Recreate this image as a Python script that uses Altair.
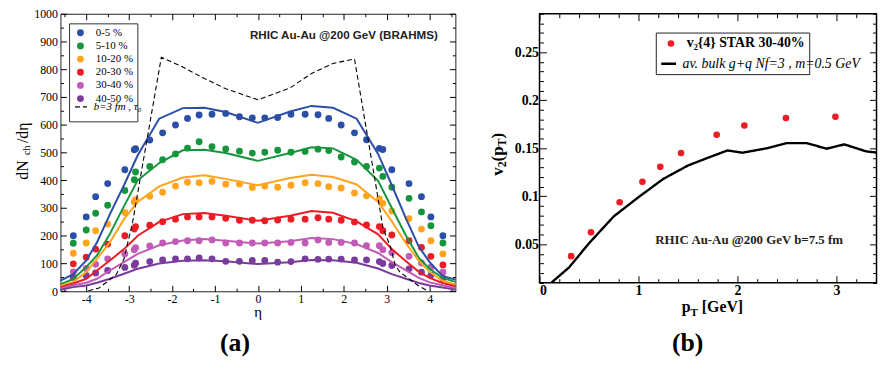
import altair as alt
import pandas as pd

SERIF = "Liberation Serif, Times New Roman, serif"
SANS = "Liberation Sans, Arial, sans-serif"

# ---------------- panel (a) data ----------------
CENT = ["0-5 %", "5-10 %", "10-20 %", "20-30 %", "30-40 %", "40-50 %"]
DASH_NAME = "b=3 fm , τ₀"
COLORS = ["#2b4ea6", "#16963c", "#ffa41c", "#ec1c24", "#c15bb6", "#7a3c9c"]

ETA_DOTS = [-4.30, -4.00, -3.78, -3.50, -3.10, -2.88, -2.85, -2.52, -2.22, -1.92, -1.64,
            -1.37, -1.07, -0.75, -0.43, -0.13, 0.16, 0.46, 0.77, 1.10, 1.40, 1.65,
            1.94, 2.25, 2.53, 2.83, 2.91, 3.12, 3.52, 3.81, 4.03, 4.31]
DOTS_0_5 = [200, 268, 341, 388, 438, 510, 514, 545, 571, 599, 623, 635, 638, 641, 629, 625,
            625, 626, 638, 638, 636, 623, 599, 571, 546, 515, 511, 438, 388, 341, 268, 200]
DOTS_5_10 = [173, 221, 281, 310, 363, 402, 430, 450, 474, 495, 516, 539, 521, 513, 505, 498,
             501, 508, 501, 504, 512, 507, 484, 466, 450, 444, 414, 375, 335, 286, 236, 174]
DOTS_10_20 = [137, 174, 218, 242, 284, 322, 330, 342, 357, 379, 393, 391, 396, 386, 387, 374,
              379, 375, 382, 391, 388, 377, 372, 354, 344, 333, 317, 289, 262, 224, 182, 135]
DOTS_20_30 = [99, 123, 152, 170, 200, 224, 233, 238, 251, 260, 268, 268, 268, 263, 256, 256,
              254, 257, 260, 260, 265, 260, 256, 250, 239, 233, 218, 203, 182, 158, 126, 95]
DOTS_30_40 = [70, 82, 97, 117, 135, 150, 157, 163, 174, 179, 182, 182, 185, 174, 174, 174,
              174, 174, 176, 174, 185, 176, 176, 174, 164, 164, 150, 139, 126, 102, 87, 69]
DOTS_40_50 = [50, 57, 66, 75, 86, 94, 101, 107, 113, 117, 117, 120, 117, 108, 108, 111,
              111, 105, 107, 117, 115, 116, 116, 113, 113, 107, 100, 93, 81, 69, 58, 46]

ETA_MODEL = [-4.6, -4.3, -4.0, -3.75, -3.45, -3.12, -2.8, -2.3, -1.75, -1.25, -0.75, 0.0,
             0.75, 1.25, 1.75, 2.3, 2.8, 3.12, 3.45, 3.75, 4.0, 4.3, 4.6]
MODEL_0_5 = [38, 62, 111, 176, 277, 382, 490, 622, 660, 661, 646, 607, 648, 668, 661, 622,
             495, 382, 262, 160, 105, 55, 42]
MODEL_5_10 = [25, 45, 87, 129, 206, 307, 400, 462, 508, 510, 498, 470, 498, 519, 515, 474,
              398, 300, 200, 120, 81, 48, 34]
MODEL_10_20 = [20, 34, 69, 117, 176, 260, 322, 378, 410, 418, 405, 382, 408, 420, 412, 385,
               322, 252, 172, 110, 70, 38, 25]
MODEL_20_30 = [15, 28, 45, 75, 111, 152, 200, 250, 278, 282, 272, 254, 272, 289, 283, 252,
               205, 152, 108, 70, 48, 30, 18]
MODEL_30_40 = [10, 22, 31, 45, 75, 105, 135, 166, 183, 188, 182, 172, 180, 192, 188, 170,
               138, 105, 75, 48, 32, 22, 12]
MODEL_40_50 = [5, 15, 21, 31, 45, 63, 81, 100, 110, 112, 108, 98, 105, 113, 112, 103,
               82, 62, 45, 30, 21, 14, 6]

ETA_DASH = [-3.95, -3.7, -3.3, -3.12, -2.92, -2.25, -1.75, -1.25, -0.75, 0.0, 0.75, 1.25,
            1.75, 2.25, 2.92, 3.08, 3.2, 3.31, 3.73, 3.95]
DASH_B3 = [2, 12, 60, 117, 248, 843, 808, 767, 730, 690, 733, 785, 821, 837, 224, 164,
           93, 69, 21, 2]

X_MAJOR_A = [-4, -3, -2, -1, 0, 1, 2, 3, 4]
X_MINOR_A = [-4.5, -3.5, -2.5, -1.5, -0.5, 0.5, 1.5, 2.5, 3.5, 4.5]
Y_MAJOR_A = [0, 100, 200, 300, 400, 500, 600, 700, 800, 900, 1000]
Y_MINOR_A = [50, 150, 250, 350, 450, 550, 650, 750, 850, 950]

# ---------------- panel (b) data ----------------
R_STAR = "v₂{4} STAR 30-40%"
R_MODEL = "av. bulk g+q Nf=3 , m=0.5 GeV"
PT_STAR = [0.32, 0.52, 0.81, 1.04, 1.22, 1.43, 1.79, 2.07, 2.49, 2.99]
V2_STAR = [0.0376, 0.0624, 0.0937, 0.115, 0.1306, 0.145, 0.164, 0.1736, 0.1815, 0.1828]
PT_MODEL = [0.12, 0.3, 0.5, 0.75, 1.0, 1.25, 1.5, 1.7, 1.9, 2.05, 2.3, 2.5, 2.7, 2.9,
            3.08, 3.3, 3.45]
V2_MODEL = [0.010, 0.026, 0.051, 0.079, 0.099, 0.118, 0.132, 0.140, 0.1477, 0.1453, 0.150,
            0.1553, 0.1553, 0.1495, 0.154, 0.1467, 0.145]

X_MAJOR_B = [0, 1, 2, 3]
X_MINOR_B = [0.2, 0.4, 0.6, 0.8, 1.2, 1.4, 1.6, 1.8, 2.2, 2.4, 2.6, 2.8, 3.2, 3.4]
Y_MAJOR_B = [0.05, 0.1, 0.15, 0.2, 0.25]
Y_MINOR_B = [0.01, 0.02, 0.03, 0.04, 0.06, 0.07, 0.08, 0.09, 0.11, 0.12, 0.13, 0.14,
             0.16, 0.17, 0.18, 0.19, 0.21, 0.22, 0.23, 0.24, 0.26, 0.27, 0.28, 0.29]

# ---------------- frames ----------------
dots_rows = []
for name, vals in zip(CENT, [DOTS_0_5, DOTS_5_10, DOTS_10_20, DOTS_20_30, DOTS_30_40, DOTS_40_50]):
    for e, v in zip(ETA_DOTS, vals):
        dots_rows.append({"eta": e, "val": v, "series": name})
df_dots = pd.DataFrame(dots_rows)

model_rows = []
for name, vals in zip(CENT, [MODEL_0_5, MODEL_5_10, MODEL_10_20, MODEL_20_30, MODEL_30_40, MODEL_40_50]):
    for e, v in zip(ETA_MODEL, vals):
        model_rows.append({"eta": e, "val": v, "series": name})
df_model = pd.DataFrame(model_rows)

df_dash = pd.DataFrame({"eta": ETA_DASH, "val": DASH_B3, "curve": DASH_NAME})
df_star = pd.DataFrame({"pt": PT_STAR, "v2": V2_STAR, "series": R_STAR})
df_rmodel = pd.DataFrame({"pt": PT_MODEL, "v2": V2_MODEL, "curve": R_MODEL})
one = pd.DataFrame({"t": [""]})


def ax(orient, values, size, labels=False, **kw):
    return alt.Axis(orient=orient, values=values, tickSize=size, offset=-size, labels=labels,
                    domain=False, grid=False, title=None, ticks=True, tickColor="black",
                    tickWidth=1, **kw)


def txt(s, x, y, size, angle=0, align="left", baseline="alphabetic", weight="normal", style="normal"):
    kw = dict(font=SERIF, fontSize=size, align=align, baseline=baseline,
              fontWeight=weight, fontStyle=style, color="black", text=s)
    if angle:
        kw["angle"] = angle
    return alt.Chart(one).mark_text(**kw).encode(x=alt.value(x), y=alt.value(y))


# ================= panel (a) =================
xs_a = alt.Scale(domain=[-4.6, 4.6], nice=False, zero=False)
ys_a = alt.Scale(domain=[0, 1000], nice=False, zero=False)
cs_dots = alt.Scale(domain=CENT + [DASH_NAME], range=COLORS + ["transparent"])
cs_lines = alt.Scale(domain=CENT, range=COLORS)

SPACES_A = "\u2003\u2003\u2003\u2003\u2003"
leg_a = alt.Legend(
    orient="none", legendX=8.7, legendY=9.7, title=None, zindex=1,
    strokeColor="#333333", padding=4, rowPadding=1.3,
    symbolSize=48, symbolType="circle", symbolOffset=2, labelOffset=10,
    symbolStrokeWidth=0, symbolOpacity=1,
    labelFont=SERIF, labelFontSize=11, labelColor="black",
    labelExpr=f"datum.label === '{DASH_NAME}' ? '{SPACES_A}' : datum.label",
)
leg_dash = alt.Legend(
    orient="none", legendX=13.7, legendY=87.0, title=None, padding=0, zindex=3,
    symbolType="stroke", symbolSize=144, symbolStrokeColor="black", symbolStrokeWidth=1.2,
    labelOffset=6, labelFont=SERIF, labelFontSize=11, labelFontStyle="italic",
    labelColor="black",
)

lab_a = dict(labelFont=SERIF, labelFontSize=12, labelColor="black",
             labelExpr="'' + datum.value")

dots_a = alt.Chart(df_dots).mark_circle(size=48, opacity=1).encode(
    x=alt.X("eta:Q", scale=xs_a, axis=ax("bottom", X_MAJOR_A, 6, True, labelPadding=2, **lab_a)),
    y=alt.Y("val:Q", scale=ys_a, axis=ax("left", Y_MAJOR_A, 6, True, labelPadding=3, **lab_a)),
    color=alt.Color("series:N", scale=cs_dots, legend=leg_a),
)
model_a = alt.Chart(df_model).mark_line(strokeWidth=2).encode(
    x=alt.X("eta:Q", scale=xs_a, axis=ax("top", X_MAJOR_A, 6)),
    y=alt.Y("val:Q", scale=ys_a, axis=ax("right", Y_MAJOR_A, 6)),
    color=alt.Color("series:N", scale=cs_lines, legend=None),
)
dash_a = alt.Chart(df_dash).mark_line(strokeWidth=1.1, color="black").encode(
    x=alt.X("eta:Q", scale=xs_a, axis=ax("bottom", X_MINOR_A, 3)),
    y=alt.Y("val:Q", scale=ys_a, axis=ax("left", Y_MINOR_A, 3)),
    strokeDash=alt.StrokeDash("curve:N", scale=alt.Scale(domain=[DASH_NAME], range=[[5, 3]]),
                              legend=leg_dash),
)
note_a = alt.Chart(pd.DataFrame({"x": [4.19], "y": [923], "t": ["RHIC Au-Au @200 GeV (BRAHMS)"]})).mark_text(
    font=SANS, fontWeight="bold", fontSize=11.7, align="right", baseline="middle", color="#222"
).encode(
    x=alt.X("x:Q", scale=xs_a, axis=ax("top", X_MINOR_A, 3)),
    y=alt.Y("y:Q", scale=ys_a, axis=ax("right", Y_MINOR_A, 3)),
    text="t:N",
)

titles_a = [
    txt("dN", -32.6, 167.7, 16, angle=270),
    txt("ch", -30.8, 142.7, 10, angle=270),
    txt("/dη", -32.6, 130.7, 16, angle=270),
    txt("η", 199.7, 306.5, 15, align="center"),
    txt("(a)", 176.4, 340.5, 26, align="center", weight="bold"),
]

panel_a = alt.layer(dots_a, model_a, dash_a, note_a, *titles_a).resolve_axis(
    x="independent", y="independent"
).resolve_scale(color="independent").properties(
    width=399, height=280.4, view=alt.ViewBackground(stroke="#222222", strokeWidth=1)
)

# ================= panel (b) =================
xs_b = alt.Scale(domain=[0, 3.405], nice=False, zero=False)
ys_b = alt.Scale(domain=[0.01, 0.29], nice=False, zero=False)
cs_b = alt.Scale(domain=[R_STAR, R_MODEL], range=["#ee1c24", "transparent"])
SPACES_B = "\u2003" * 13
leg_b = alt.Legend(
    orient="none", legendX=117.5, legendY=19, title=None, zindex=1,
    strokeColor="#222222", fillColor="white", padding=4, rowPadding=5.5,
    symbolSize=45, symbolType="circle", symbolOffset=4.3, labelOffset=9,
    symbolStrokeWidth=0, symbolOpacity=1,
    labelFont=SERIF, labelFontSize=14, labelFontWeight="bold", labelColor="black",
    labelLimit=400,
    labelExpr=f"datum.label === '{R_MODEL}' ? '{SPACES_B}' : datum.label",
)
leg_line = alt.Legend(
    orient="none", legendX=121.5, legendY=41.5, title=None, padding=0, zindex=3,
    symbolType="stroke", symbolSize=225, symbolStrokeColor="black", symbolStrokeWidth=2.6,
    labelOffset=5, labelFont=SERIF, labelFontSize=14, labelFontStyle="italic",
    labelFontWeight="normal", labelColor="black", labelLimit=400,
)
lab_b = dict(labelFont=SERIF, labelFontSize=14, labelFontWeight="bold", labelColor="black",
             labelExpr="'' + datum.value")

star_b = alt.Chart(df_star).mark_circle(size=45, opacity=1).encode(
    x=alt.X("pt:Q", scale=xs_b, axis=ax("bottom", X_MAJOR_B, 7, True, labelPadding=1, **lab_b)),
    y=alt.Y("v2:Q", scale=ys_b, axis=ax("left", Y_MAJOR_B, 7, True, labelPadding=1, **lab_b)),
    color=alt.Color("series:N", scale=cs_b, legend=leg_b),
)
model_b = alt.Chart(df_rmodel).mark_line(strokeWidth=2.4, clip=True, color="black").encode(
    x=alt.X("pt:Q", scale=xs_b, axis=ax("top", X_MAJOR_B, 7)),
    y=alt.Y("v2:Q", scale=ys_b, axis=ax("right", Y_MAJOR_B, 7)),
    strokeDash=alt.StrokeDash("curve:N", scale=alt.Scale(domain=[R_MODEL], range=[[1, 0]]),
                              legend=leg_line),
)
note_b = alt.Chart(pd.DataFrame({"x": [1.17], "y": [0.0547], "t": ["RHIC Au-Au @200 GeV b=7.5 fm"]})).mark_text(
    font=SERIF, fontWeight="bold", fontSize=13, align="left", baseline="middle", color="#222"
).encode(
    x=alt.X("x:Q", scale=xs_b, axis=ax("bottom", X_MINOR_B, 4)),
    y=alt.Y("y:Q", scale=ys_b, axis=ax("left", Y_MINOR_B, 4)),
    text="t:N",
)
minor_b = alt.Chart(pd.DataFrame({"x": [1.0], "y": [0.1]})).mark_point(opacity=0).encode(
    x=alt.X("x:Q", scale=xs_b, axis=ax("top", X_MINOR_B, 4)),
    y=alt.Y("y:Q", scale=ys_b, axis=ax("right", Y_MINOR_B, 4)),
)

titles_b = [
    txt("v", -37.3, 163.7, 17, angle=270, weight="bold"),
    txt("2", -34.3, 155.2, 12, angle=270, weight="bold"),
    txt("(p", -37.3, 149.2, 17, angle=270, weight="bold"),
    txt("T", -34.3, 134.1, 12, angle=270, weight="bold"),
    txt(")", -37.3, 126.1, 17, angle=270, weight="bold"),
    txt("p", 143.7, 301.5, 16, weight="bold"),
    txt("T", 152.6, 305.5, 11, weight="bold"),
    txt("[GeV]", 164.0, 301.5, 16, weight="bold"),
    txt("(b)", 149.7, 340.5, 26, align="center", weight="bold"),
]

panel_b = alt.layer(star_b, model_b, note_b, minor_b, *titles_b).resolve_axis(
    x="independent", y="independent"
).properties(width=340.5, height=271.7, view=alt.ViewBackground(stroke="black", strokeWidth=1.5))

chart = alt.hconcat(panel_a, panel_b, spacing=85, bounds="flush").resolve_scale(
    color="independent", strokeDash="independent"
).properties(
    padding={"left": 6, "top": -3, "right": 0, "bottom": 0}
).configure(background="white")

chart.save("out.html", embed_options={"renderer": "svg", "actions": False})
